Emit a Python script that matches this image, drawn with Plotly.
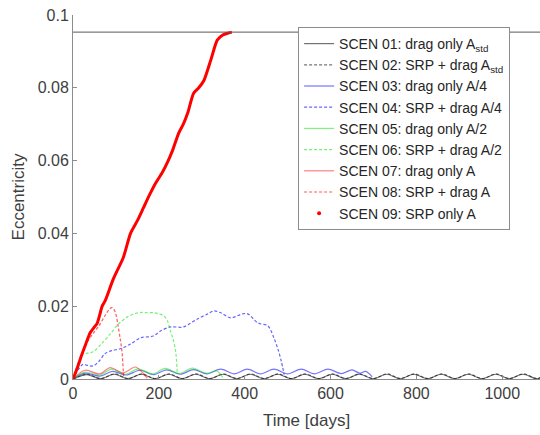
import plotly.graph_objects as go

# ---------------- data ----------------
threshold_e = 0.0953

s01_days = [0, 32, 64, 96, 128, 159, 191, 223, 254, 286, 318, 350, 381, 413, 445, 477, 508, 540, 572,
            604, 635, 667, 699, 731, 762, 794, 826, 858, 889, 921, 953, 985, 1016, 1048, 1080, 1095]
s01_e = [0, 0.0012, 0.0001, 0.0013, 0.0001, 0.0013, 0.0001, 0.0013, 0.0001, 0.0013, 0.0001, 0.0013,
         0.0001, 0.0013, 0.0001, 0.0013, 0.0001, 0.0013, 0.0001, 0.0013, 0.0001, 0.0013, 0.0001, 0.0013,
         0.0001, 0.0013, 0.0001, 0.0013, 0.0001, 0.0013, 0.0001, 0.0013, 0.0001, 0.0013, 0.0001, 0.0007]

s02_days = [0, 33, 65, 97, 129, 160, 192, 224, 255, 287, 319, 351, 382, 414, 446, 478, 509, 541, 573,
            605, 636, 668, 700, 732, 763, 795, 827, 859, 890, 922, 954, 986, 1017, 1049, 1081, 1095]
s02_e = [0, 0.0013, 0.0001, 0.0014, 0.0001, 0.0014, 0.0001, 0.0014, 0.0001, 0.0014, 0.0001, 0.0014,
         0.0001, 0.0014, 0.0001, 0.0014, 0.0001, 0.0014, 0.0001, 0.0014, 0.0001, 0.0014, 0.0001, 0.0014,
         0.0001, 0.0014, 0.0001, 0.0014, 0.0001, 0.0014, 0.0001, 0.0014, 0.0001, 0.0014, 0.0001, 0.0008]

s03_days = [0, 28, 63, 92, 124, 156, 188, 218, 250, 281, 312, 344, 376, 406, 437, 468, 500, 532, 562,
            594, 625, 650, 668, 682, 697]
s03_e = [0, 0.0016, 0.0008, 0.0021, 0.0011, 0.0024, 0.0012, 0.0025, 0.0013, 0.0026, 0.0014, 0.0027,
         0.0014, 0.0027, 0.0014, 0.0027, 0.0014, 0.0027, 0.0014, 0.0027, 0.0015, 0.0025, 0.0016, 0.0021,
         0.0006]

s04_days = [0, 12, 23, 35, 47, 60, 75, 90, 110, 134, 157, 187, 204, 227, 257, 290, 314, 328, 344, 367,
            395, 407, 431, 454, 468, 478, 485, 492]
s04_e = [0, 0.0025, 0.004, 0.0037, 0.0036, 0.0048, 0.007, 0.0078, 0.0083, 0.0096, 0.0113, 0.0118,
         0.0132, 0.0143, 0.0143, 0.0165, 0.0179, 0.0187, 0.0182, 0.0168, 0.0179, 0.0179, 0.0154, 0.0146,
         0.0113, 0.008, 0.005, 0.0012]

s05_days = [0, 28, 63, 90, 122, 152, 185, 215, 248, 278, 310, 335, 349]
s05_e = [0, 0.0019, 0.0011, 0.0027, 0.0013, 0.0028, 0.0014, 0.0029, 0.0015, 0.003, 0.0016, 0.0022,
         0.0004]

s06_days = [0, 12, 23, 35, 47, 65, 87, 105, 126, 145, 161, 175, 188, 200, 211, 220, 227, 233, 239, 243]
s06_e = [0, 0.0045, 0.0069, 0.0071, 0.0075, 0.0095, 0.0124, 0.015, 0.017, 0.018, 0.0183, 0.0182,
         0.0182, 0.0179, 0.0174, 0.016, 0.0132, 0.011, 0.0077, 0.0015]

s07_days = [0, 28, 63, 86, 117, 145, 160, 173]
s07_e = [0, 0.0024, 0.0014, 0.0031, 0.0017, 0.0033, 0.002, 0.0002]

s08_days = [0, 15, 30, 47, 60, 75, 85, 91, 98, 105, 110, 114, 118]
s08_e = [0, 0.005, 0.0095, 0.0125, 0.0145, 0.0175, 0.0192, 0.0196, 0.0185, 0.0146, 0.011, 0.0077,
         0.0003]

s09_days = [0, 10, 20, 30, 40, 48, 56, 68, 75, 94, 117, 134, 150, 164, 178, 192, 208, 220, 232, 246,
            257, 267, 281, 293, 305, 321, 336, 349, 360, 370]
s09_e = [0, 0.003, 0.0065, 0.0097, 0.0127, 0.014, 0.0152, 0.020, 0.0215, 0.0275, 0.0333, 0.040,
         0.0435, 0.047, 0.0505, 0.0537, 0.0567, 0.0595, 0.0628, 0.0675, 0.070, 0.073, 0.0785, 0.080,
         0.082, 0.0876, 0.0931, 0.0945, 0.095, 0.0953]

names = [
    "SCEN 01: drag only A<sub>std</sub>",
    "SCEN 02: SRP + drag A<sub>std</sub>",
    "SCEN 03: drag only A/4",
    "SCEN 04: SRP + drag A/4",
    "SCEN 05: drag only A/2",
    "SCEN 06: SRP + drag A/2",
    "SCEN 07: drag only A",
    "SCEN 08: SRP + drag A",
    "SCEN 09: SRP only A",
]

# ---------------- figure ----------------
fig = go.Figure()

DASH = "3px,2px"
series = [
    (s01_days, s01_e, "rgba(0,0,0,0.55)", "solid"),
    (s02_days, s02_e, "rgba(0,0,0,0.55)", DASH),
    (s03_days, s03_e, "rgba(0,0,255,0.55)", "solid"),
    (s04_days, s04_e, "rgba(0,0,255,0.6)", DASH),
    (s05_days, s05_e, "rgba(0,230,0,0.5)", "solid"),
    (s06_days, s06_e, "rgba(0,230,0,0.55)", DASH),
    (s07_days, s07_e, "rgba(255,0,0,0.5)", "solid"),
    (s08_days, s08_e, "rgba(255,0,0,0.65)", DASH),
]

fig.add_hline(y=threshold_e, line=dict(color="#595959", width=1))

for (xs, ys, col, dash), nm in zip(series, names[:8]):
    fig.add_trace(go.Scatter(x=xs, y=ys, mode="lines", name=nm,
                             line=dict(color=col, width=1.2, dash=dash, shape="spline", smoothing=0.9)))

fig.add_trace(go.Scatter(x=s09_days, y=s09_e, mode="lines", name=names[8], showlegend=False,
                         legendgroup="s09",
                         line=dict(color="#ff0000", width=3, shape="spline", smoothing=0.6)))
fig.add_trace(go.Scatter(x=[None], y=[None], mode="markers", name=names[8], legendgroup="s09",
                         marker=dict(color="#ff0000", size=4)))

axis_col = "#8c8c8c"
font_col = "#404040"
fig.update_layout(
    width=540, height=435,
    margin=dict(l=73, r=0, t=15, b=56),
    paper_bgcolor="white", plot_bgcolor="white",
    font=dict(family="Liberation Sans, Arial, sans-serif", size=15, color=font_col),
    showlegend=True,
    legend=dict(x=0.482, y=0.967, xanchor="left", yanchor="top",
                bgcolor="white", bordercolor="#8c8c8c", borderwidth=1,
                font=dict(size=14, color="#262626"), tracegroupgap=0,
                itemwidth=30),
    xaxis=dict(range=[0, 1088], tickvals=[0, 200, 400, 600, 800, 1000],
               showgrid=False, zeroline=False, showline=True, linecolor=axis_col, linewidth=1,
               ticks="inside", ticklen=4, tickcolor=axis_col,
               title=dict(text="Time [days]", font=dict(size=17, color=font_col), standoff=12),
               tickfont=dict(size=16, color=font_col)),
    yaxis=dict(range=[0, 0.1], tickvals=[0, 0.02, 0.04, 0.06, 0.08, 0.1],
               ticktext=["0", "0.02", "0.04", "0.06", "0.08", "0.1"],
               showgrid=False, zeroline=False, showline=True, linecolor=axis_col, linewidth=1,
               ticks="inside", ticklen=4, tickcolor=axis_col,
               title=dict(text="Eccentricity", font=dict(size=17, color=font_col), standoff=8),
               tickfont=dict(size=16, color=font_col)),
)

fig.write_html("out.html")
